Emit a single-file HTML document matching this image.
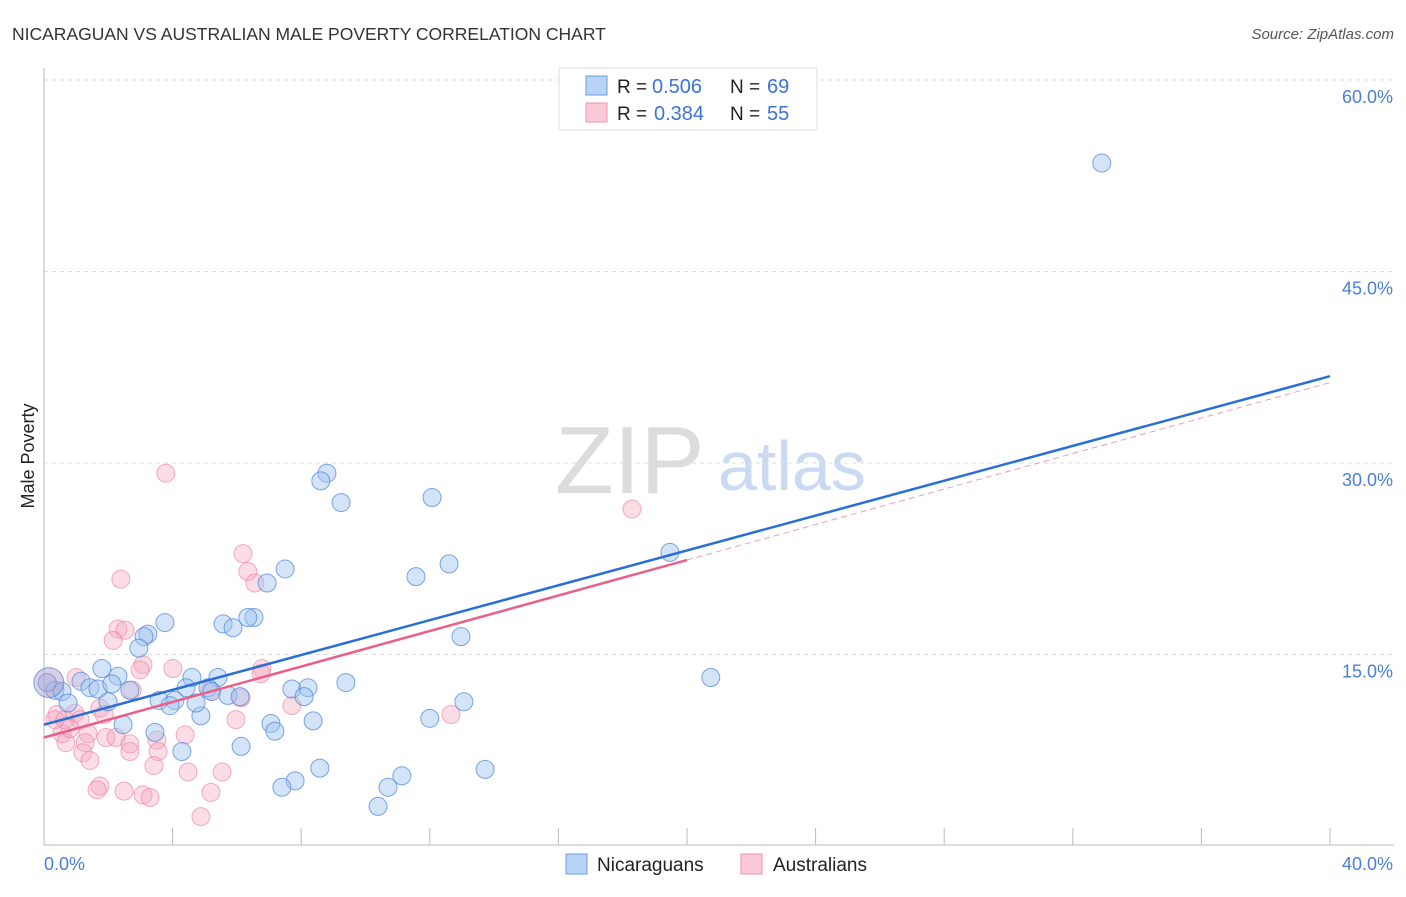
<!DOCTYPE html>
<html><head><meta charset="utf-8"><style>
body{margin:0;background:#fff;font-family:"Liberation Sans",sans-serif;}
svg text{font-family:"Liberation Sans",sans-serif;}
</style></head><body>
<svg id="c" width="1406" height="892" xmlns="http://www.w3.org/2000/svg">
<text x="12" y="40" font-size="17.5" fill="#333">NICARAGUAN VS AUSTRALIAN MALE POVERTY CORRELATION CHART</text>
<text x="1394" y="39" font-size="15" fill="#555" font-style="italic" text-anchor="end">Source: ZipAtlas.com</text>
<text x="555" y="493" font-size="96" fill="#dcdcdc" font-family="Liberation Serif,serif">ZIP</text>
<text x="718" y="490" font-size="70" fill="#c9daf2">atlas</text>
<text transform="translate(34,456) rotate(-90)" font-size="18" fill="#222" text-anchor="middle">Male Poverty</text>
<g id="grid"></g><g id="pts"></g><g id="lines"></g>
<g>
<rect x="559" y="68" width="258" height="62" fill="#fff" stroke="#ddd"/>
<rect x="586" y="76" width="21" height="19" fill="#b9d3f5" stroke="#6a9be0"/>
<rect x="586" y="103" width="21" height="19" fill="#fbc9d8" stroke="#ee93ae"/>
<text x="617" y="93" font-size="19" fill="#222">R = </text><text x="652" y="93" font-size="20" fill="#3a74d8">0.506</text>
<text x="730" y="93" font-size="19" fill="#222">N = </text><text x="767" y="93" font-size="20" fill="#3a74d8">69</text>
<text x="617" y="120" font-size="19" fill="#222">R = </text><text x="654" y="120" font-size="20" fill="#3a74d8">0.384</text>
<text x="730" y="120" font-size="19" fill="#222">N = </text><text x="767" y="120" font-size="20" fill="#3a74d8">55</text>
</g>
<g>
<rect x="566" y="854" width="21" height="20" fill="#b9d3f5" stroke="#6a9be0"/>
<text x="597" y="871" font-size="19" fill="#222">Nicaraguans</text>
<rect x="741" y="854" width="21" height="20" fill="#fbc9d8" stroke="#ee93ae"/>
<text x="773" y="871" font-size="19" fill="#222">Australians</text>
</g>
</svg>
<script>
const yTicks=[15,30,45,60];
const xTickLabels=["0.0%","40.0%"];
const blueX=[32.9,8.80,8.61,9.24,12.07,19.47,12.60,11.57,7.50,6.94,6.53,6.34,5.57,5.88,3.76,3.23,3.11,2.95,12.97,20.74,1.80,2.30,1.15,1.43,1.68,0.34,0.56,2.11,2.67,4.60,5.41,4.42,5.10,5.22,5.72,6.10,3.58,4.07,3.92,4.88,2.46,1.99,4.73,7.71,8.21,8.09,9.39,13.06,8.37,7.06,7.18,3.45,4.29,6.13,12.0,8.58,7.81,7.40,13.72,11.13,10.70,10.39,0.75,0.1];
const blueY=[53.5,29.2,28.6,26.9,27.3,23.0,22.1,21.1,21.7,20.6,17.9,17.9,17.4,17.1,17.5,16.6,16.4,15.5,16.4,13.2,13.9,13.3,12.9,12.4,12.3,12.2,12.1,12.7,12.2,13.2,13.2,12.4,12.4,12.1,11.8,11.7,11.4,11.4,11.0,10.2,9.5,11.3,11.2,12.3,12.4,11.7,12.8,11.3,9.8,9.6,9.0,8.9,7.4,7.8,10.0,6.1,5.1,4.6,6.0,5.5,4.6,3.1,11.2,12.8];
const pinkX=[3.79,18.29,6.19,6.34,6.56,2.39,2.30,2.52,2.15,3.08,2.99,4.01,6.78,6.75,1.0,2.74,5.16,6.13,7.71,12.66,1.74,1.87,0.96,1.12,0.4,0.34,5.97,0.56,0.68,1.37,1.28,1.93,2.24,2.67,2.67,3.51,3.55,4.39,1.21,1.43,3.42,4.48,5.54,1.74,1.65,2.49,3.08,3.30,5.19,4.88,0.65,0.81];
const pinkY=[29.2,26.4,22.9,21.5,20.6,20.9,17.0,16.9,16.1,14.2,13.8,13.9,13.9,13.5,13.2,12.2,12.2,11.6,11.0,10.3,10.8,10.3,10.4,9.9,10.3,9.9,9.9,8.8,8.1,8.8,8.1,8.5,8.5,8.0,7.4,8.3,7.4,8.7,7.3,6.7,6.3,5.8,5.8,4.7,4.4,4.3,4.0,3.8,4.2,2.3,9.9,9.2];
const blueTrend=[9.5,36.8];
const pinkTrend=[8.5,36.3];
const pinkSolidEnd=20;
const X=v=>44+v/40*1286, Y=v=>846-v/15*191.5;
const NS="http://www.w3.org/2000/svg";
function mk(t,a,p){const e=document.createElementNS(NS,t);for(const k in a)e.setAttribute(k,a[k]);p.appendChild(e);return e;}
const grid=document.getElementById('grid'),pts=document.getElementById('pts'),lines=document.getElementById('lines');
yTicks.forEach(t=>{
 const l=mk('line',{x1:44,x2:1394,y1:Y(t),y2:Y(t),stroke:'#ddd','stroke-dasharray':'4,4'},grid);
 
 
 const tx=mk('text',{x:1393,y:Y(t)+23,'font-size':18,fill:'#4a7fd6','text-anchor':'end'},grid);tx.textContent=t.toFixed(1)+'%';
 
 
});
mk('line',{x1:44,x2:44,y1:68,y2:845,stroke:'#bbb'},grid);
mk('line',{x1:44,x2:1394,y1:845,y2:845,stroke:'#bbb'},grid);
for(let i=1;i<=10;i++){const l=mk('line',{x1:X(i*4),x2:X(i*4),y1:828,y2:845,stroke:'#bbb'},grid);
 
 }
const t0=mk('text',{x:44,y:870,'font-size':18,fill:'#4a7fd6'},grid);t0.textContent=xTickLabels[0];


const t1=mk('text',{x:1393,y:870,'font-size':18,fill:'#4a7fd6','text-anchor':'end'},grid);t1.textContent=xTickLabels[1];


pinkX.forEach((x,i)=>{const c=mk('circle',{cx:X(x),cy:Y(pinkY[i]),r:9,fill:'rgba(246,170,192,0.4)',stroke:'rgba(236,120,155,0.6)'},pts);
 
 });
blueX.forEach((x,i)=>{const c=mk('circle',{cx:X(x),cy:Y(blueY[i]),r:9,fill:'rgba(160,195,240,0.45)',stroke:'rgba(70,130,215,0.7)'},pts);
 
 });
const big=mk('circle',{cx:X(0.15),cy:Y(12.8),r:15,fill:'rgba(170,150,200,0.45)',stroke:'rgba(70,130,215,0.7)'},pts);


const bl=mk('line',{x1:X(0),y1:Y(blueTrend[0]),x2:X(40),y2:Y(blueTrend[1]),stroke:'#2a6fd6','stroke-width':2.5},lines);


const pv=x=>pinkTrend[0]+(pinkTrend[1]-pinkTrend[0])*x/40;
const pl=mk('line',{x1:X(0),y1:Y(pv(0)),x2:X(pinkSolidEnd),y2:Y(pv(pinkSolidEnd)),stroke:'#e8608a','stroke-width':2.5},lines);


const pd=mk('line',{x1:X(pinkSolidEnd),y1:Y(pv(pinkSolidEnd)),x2:X(40),y2:Y(pv(40)),stroke:'#e8a0b8','stroke-width':1,'stroke-dasharray':'6,4'},lines);


</script>
</body></html>
